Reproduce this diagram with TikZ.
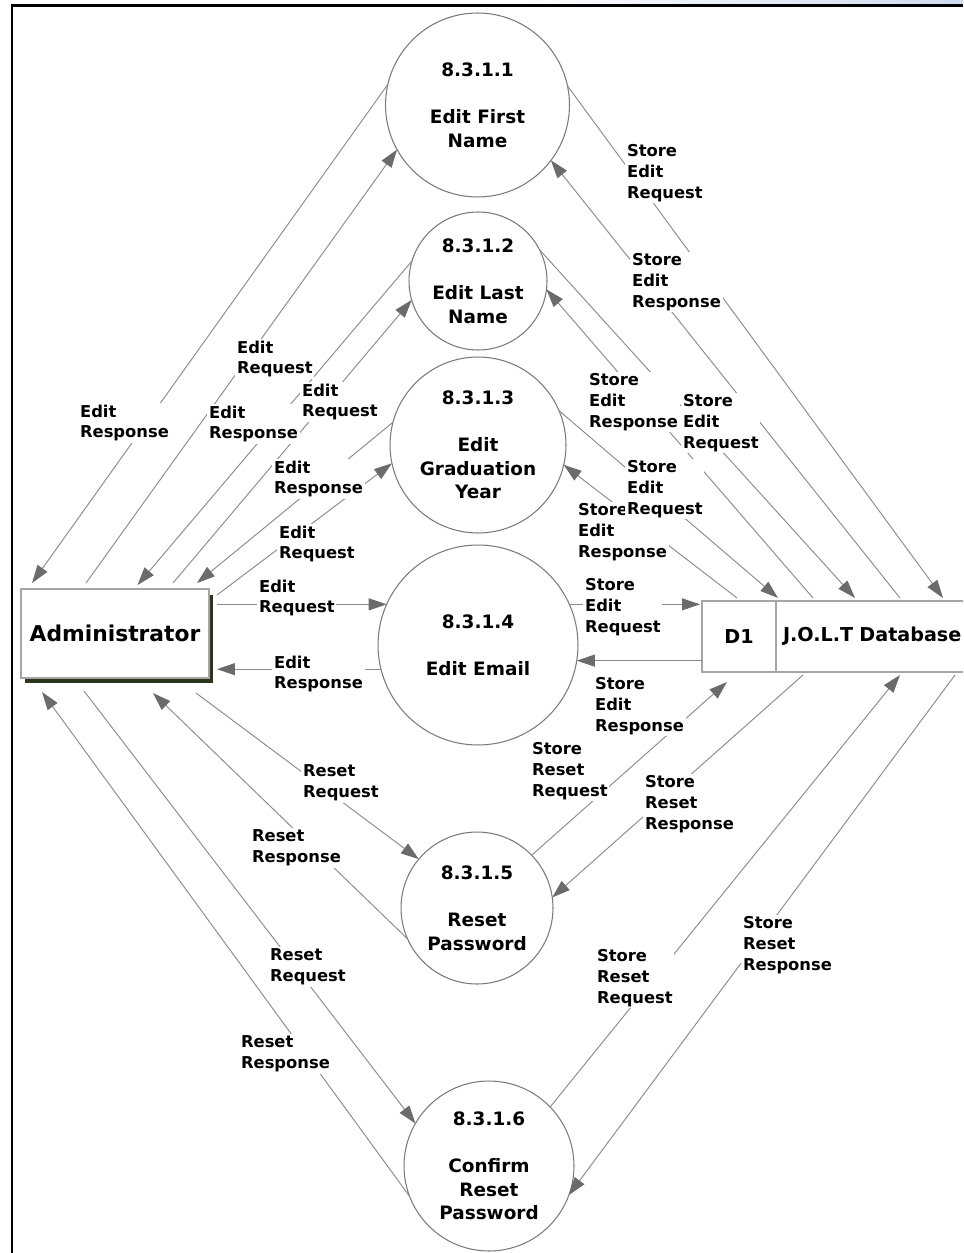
\documentclass[tikz,border=0pt]{standalone}
\usepackage{fontspec}
\setmainfont{DejaVu Sans}
\usetikzlibrary{arrows.meta,calc,shadows}
\definecolor{linegray}{HTML}{8C8C8C}
\definecolor{arrowgray}{HTML}{6B6B6B}
\definecolor{circgray}{HTML}{7A7A7A}
\definecolor{boxgray}{HTML}{A5A5A5}
\definecolor{shadowcol}{HTML}{2B3520}
\definecolor{chromeblue}{HTML}{CFDBEF}
\newcommand{\lblfont}{\fontsize{9.3}{11.9}\selectfont\bfseries}
\newcommand{\procfont}{\fontsize{10.5}{13.4}\selectfont\bfseries}
\tikzset{
  flow/.style={draw=linegray, line width=0.55pt,
    -{Triangle[length=0.36cm,width=0.24cm,color=arrowgray]}},
  lbl/.style={fill=white, inner xsep=1pt, inner ysep=1pt, anchor=west,
    align=left, font=\lblfont, text=black},
  proc/.style={circle, draw=circgray, line width=0.6pt, fill=white,
    inner sep=0pt, outer sep=0pt, align=center, font=\procfont},
  extent/.style={rectangle, draw=boxgray, line width=1pt, fill=white,
    outer sep=0pt, font=\fontsize{12.4}{14}\selectfont\bfseries},
  storebox/.style={rectangle, draw=boxgray, line width=0.9pt, fill=white,
    outer sep=0pt, inner ysep=0pt, font=\fontsize{10.9}{13}\selectfont\bfseries}
}
\begin{document}
\begin{tikzpicture}[x=0.02cm,y=-0.02cm]
\useasboundingbox (0,0) rectangle (963,1253);
\clip (0,0) rectangle (963,1253);
% window chrome
\shade[left color=white, right color=chromeblue] (520,0) rectangle (963,4.5);
\draw[line width=0.06cm] (12,1253) -- (12,5.5) -- (963,5.5);

% processes
\node[proc, minimum size=3.68cm] (c1) at (477.5,105) {8.3.1.1\\[13.4pt]Edit First\\Name};
\node[proc, minimum size=2.76cm] (c2) at (478,281) {8.3.1.2\\[13.4pt]Edit Last\\Name};
\node[proc, minimum size=3.52cm] (c3) at (478,445) {8.3.1.3\\[13.4pt]Edit\\Graduation\\Year};
\node[proc, minimum size=4cm] (c4) at (478,645) {8.3.1.4\\[13.4pt]Edit Email};
\node[proc, minimum size=3.04cm] (c5) at (477,908) {8.3.1.5\\[13.4pt]Reset\\Password};
\node[proc, minimum size=3.4cm] (c6) at (489,1166) {8.3.1.6\\[13.4pt]Confirm\\Reset\\Password};

% external entity
\node[extent, minimum width=3.76cm, minimum height=1.78cm,
  drop shadow={shadow xshift=0.08cm, shadow yshift=-0.11cm, fill=shadowcol, opacity=1}]
  (admin) at (115,633.5) {Administrator};

% data store
\node[storebox, minimum width=1.48cm, minimum height=1.42cm] (d1) at (739,636.5) {D1};
\node[storebox, anchor=west, minimum height=1.42cm, text width=4.2cm, inner xsep=0.14cm,
  align=left] (db) at (d1.east) {J.O.L.T Database};

% flows: Administrator <-> processes
\draw[flow] (c1.167) -- ($(admin.north west)+(11,-6)$);
\draw[flow] ($(admin.north west)+(65,-6)$) -- (c1.209);
\draw[flow] (c2.163) -- ($(admin.north west)+(116.5,-4)$);
\draw[flow] ($(admin.north west)+(152,-6)$) -- (c2.196);
\draw[flow] (c3.165) -- ($(admin.north west)+(176,-6)$);
\draw[flow] ($(admin.north east)+(8,6)$) -- (c3.192);
\draw[flow] ($(admin.east |- c4.156)+(8,0)$) -- (c4.156);
\draw[flow] (c4.194) -- ($(admin.east |- c4.194)+(8,0)$);
\draw[flow] ($(admin.south east)+(-13,15)$) -- (c5.140);
\draw[flow] (c5.204) -- ($(admin.south)+(38,15)$);
\draw[flow] ($(admin.south west)+(63,13)$) -- (c6.150);
\draw[flow] (c6.201) -- ($(admin.south west)+(21,14)$);

% flows: processes <-> data store
\draw[flow] (c1.12) -- ($(d1.north west)+(241,-3)$);
\draw[flow] ($(d1.north west)+(198,-3)$) -- (c1.323);
\draw[flow] (c2.27) -- ($(d1.north west)+(153,-3)$);
\draw[flow] ($(d1.north west)+(111,-3)$) -- (c2.353);
\draw[flow] (c3.23) -- ($(d1.north west)+(76,-3)$);
\draw[flow] ($(d1.north west)+(35,-3)$) -- (c3.347);
\draw[flow] (c4.24) -- ($(c4.24 -| d1.west)+(-2,0)$);
\draw[flow] (c4.351 -| d1.west) -- (c4.351);
\draw[flow] (c5.44) -- ($(d1.south west)+(25,10)$);
\draw[flow] ($(d1.south west)+(101,3)$) -- (c5.8);
\draw[flow] (c6.44) -- ($(d1.south west)+(198,3)$);
\draw[flow] ($(d1.south west)+(253,3)$) -- (c6.340);

% labels (left)
\node[lbl] (l1) at (78,423) {Edit\\Response};
\node[lbl] (l2) at (235,359) {Edit\\Request};
\node[lbl] (l3) at (207,424) {Edit\\Response};
\node[lbl] (l4) at (300,402) {Edit\\Request};
\node[lbl] (l5) at (272,479) {Edit\\Response};
\node[lbl] (l6) at (277,544) {Edit\\Request};
\node[lbl] (l7) at (257,598) {Edit\\Request};
\node[lbl] (l8) at (272,674) {Edit\\Response};
\node[lbl] (l9) at (301,783) {Reset\\Request};
\node[lbl] (l10) at (250,848) {Reset\\Response};
\node[lbl] (l11) at (268,967) {Reset\\Request};
\node[lbl] (l12) at (239,1054) {Reset\\Response};
% labels (right)
\node[lbl] (r1) at (625,173) {Store\\Edit\\Request};
\node[lbl] (r2) at (630,282) {Store\\Edit\\Response};
\node[lbl] (r4) at (587,402) {Store\\Edit\\Response};
\node[lbl] (r3) at (681,423) {Store\\Edit\\Request};
\node[lbl] (r6) at (576,532) {Store\\Edit\\Response};
\node[lbl] (r5) at (625,489) {Store\\Edit\\Request};
\node[lbl] (r7) at (583,607) {Store\\Edit\\Request};
\node[lbl] (r8) at (593,706) {Store\\Edit\\Response};
\node[lbl] (r9) at (530,771) {Store\\Reset\\Request};
\node[lbl] (r10) at (643,804) {Store\\Reset\\Response};
\node[lbl] (r11) at (595,978) {Store\\Reset\\Request};
\node[lbl] (r12) at (741,945) {Store\\Reset\\Response};
\end{tikzpicture}
\end{document}
